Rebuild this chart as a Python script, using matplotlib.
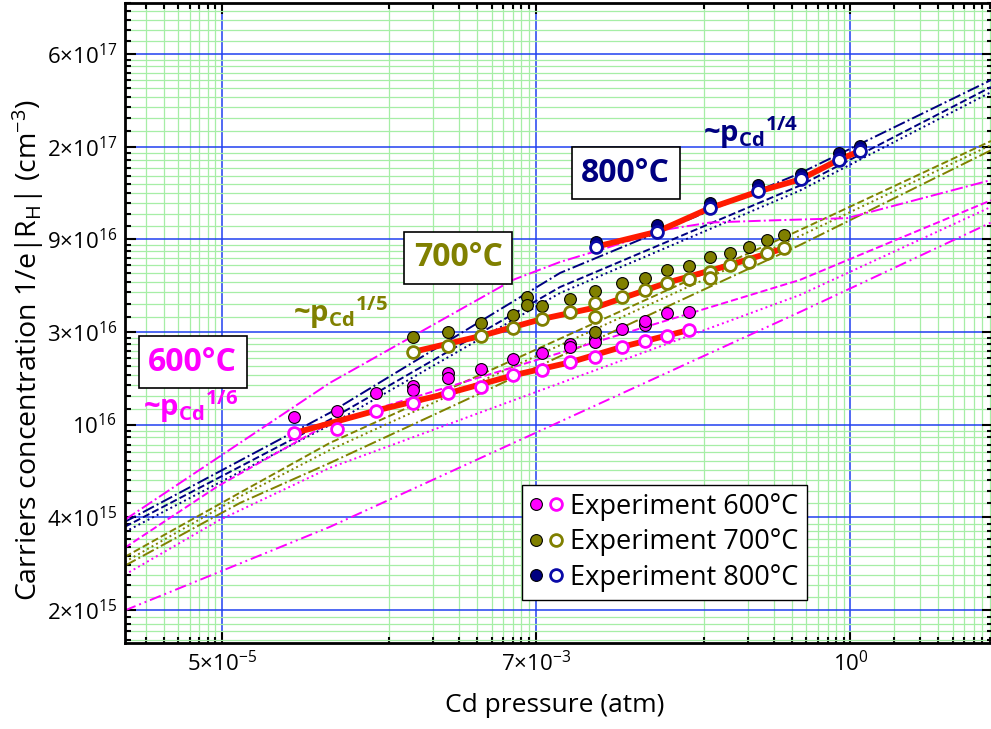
import numpy as np
import matplotlib.pyplot as plt
from matplotlib.ticker import FixedLocator, FixedFormatter, NullFormatter
from matplotlib.legend_handler import HandlerTuple

plt.rcParams['font.family'] = ['Open Sans', 'DejaVu Sans']
plt.rcParams['mathtext.fontset'] = 'custom'
plt.rcParams['mathtext.rm'] = 'Open Sans'
plt.rcParams['mathtext.bf'] = 'Open Sans:bold'
plt.rcParams['mathtext.it'] = 'Open Sans:italic'

# ---- axis ticks ----
x_ticks = [5e-5, 7e-3, 1.0]
x_labels = [r'$5{\times}10^{-5}$', r'$7{\times}10^{-3}$', r'$10^{0}$']
y_ticks = [2e15, 4e15, 1e16, 3e16, 9e16, 2e17, 6e17]
y_labels = [r'$2{\times}10^{15}$', r'$4{\times}10^{15}$', r'$10^{16}$',
            r'$3{\times}10^{16}$', r'$9{\times}10^{16}$', r'$2{\times}10^{17}$',
            r'$6{\times}10^{17}$']

# ---- experiment 600 C ----
p600_open = [1.55e-4, 3.04e-4, 5.65e-4, 1.02e-3, 1.77e-3, 2.96e-3, 4.88e-3,
             7.77e-3, 1.20e-2, 1.78e-2, 2.72e-2, 3.92e-2, 5.57e-2, 7.85e-2]
n600_open = [9.18e15, 9.55e15, 1.18e16, 1.29e16, 1.45e16, 1.57e16, 1.79e16,
             1.91e16, 2.09e16, 2.24e16, 2.51e16, 2.70e16, 2.86e16, 3.07e16]
p600_fill = [1.55e-4, 3.04e-4, 5.65e-4, 1.02e-3, 1.02e-3, 1.77e-3, 1.77e-3,
             2.96e-3, 4.88e-3, 7.77e-3, 1.20e-2, 1.20e-2, 1.78e-2, 1.78e-2,
             2.72e-2, 3.92e-2, 3.92e-2, 5.57e-2, 7.85e-2]
n600_fill = [1.10e16, 1.17e16, 1.46e16, 1.58e16, 1.51e16, 1.84e16, 1.73e16,
             1.93e16, 2.17e16, 2.33e16, 2.59e16, 2.52e16, 2.79e16, 2.67e16,
             3.11e16, 3.26e16, 3.42e16, 3.76e16, 3.80e16]

# ---- experiment 700 C ----
p700_open = [1.02e-3, 1.77e-3, 2.96e-3, 4.88e-3, 7.77e-3, 1.20e-2, 1.78e-2,
             1.78e-2, 2.72e-2, 3.92e-2, 5.57e-2, 7.85e-2, 0.110, 0.110, 0.150,
             0.201, 0.267, 0.351]
n700_open = [2.37e16, 2.55e16, 2.86e16, 3.15e16, 3.50e16, 3.79e16, 4.22e16,
             3.57e16, 4.54e16, 4.93e16, 5.38e16, 5.60e16, 6.13e16, 5.67e16,
             6.64e16, 6.91e16, 7.62e16, 8.09e16]
p700_fill = [1.02e-3, 1.77e-3, 2.96e-3, 4.88e-3, 6.07e-3, 6.07e-3, 7.77e-3,
             1.20e-2, 1.78e-2, 1.78e-2, 2.72e-2, 3.92e-2, 5.57e-2, 7.85e-2,
             0.110, 0.150, 0.201, 0.267, 0.351]
n700_fill = [2.81e16, 2.99e16, 3.32e16, 3.67e16, 4.52e16, 4.14e16, 4.08e16,
             4.43e16, 4.89e16, 3.01e16, 5.38e16, 5.67e16, 6.25e16, 6.56e16,
             7.32e16, 7.68e16, 8.18e16, 8.93e16, 9.34e16]

# ---- experiment 800 C ----
p800 = [1.81e-2, 4.72e-2, 0.110, 0.234, 0.456, 0.838, 1.17]
n800_fill = [8.75e16, 1.02e17, 1.23e17, 1.44e17, 1.58e17, 1.89e17, 2.01e17]
n800_open = [8.24e16, 9.60e16, 1.18e17, 1.36e17, 1.51e17, 1.79e17, 1.93e17]

# ---- fitted curves (red) ----
fit600_p = [1.55e-4, 5.65e-4, 1.77e-3, 4.88e-3, 1.20e-2, 2.72e-2, 7.85e-2]
fit600_n = [9.18e15, 1.18e16, 1.45e16, 1.79e16, 2.09e16, 2.51e16, 3.07e16]
fit700_p = [1.02e-3, 2.96e-3, 7.77e-3, 1.78e-2, 5.57e-2, 0.150, 0.351]
fit700_n = [2.37e16, 2.86e16, 3.50e16, 4.00e16, 5.38e16, 6.64e16, 8.09e16]
fit800_p = p800
fit800_n = n800_open

# ---- model curves ----
pm5 = [1.08e-5, 2.74e-4, 1.03e-2, 0.451, 9.16]
nav1 = [3.86e15, 1.15e16, 6.04e16, 1.59e17, 4.41e17]
nav2 = [3.72e15, 1.06e16, 5.11e16, 1.43e17, 4.06e17]
nav3 = [3.58e15, 9.96e15, 4.76e16, 1.37e17, 3.82e17]
pol = [1.08e-5, 6.62e-5, 2.74e-4, 0.451, 9.16]
olv1 = [2.97e15, 5.09e15, 8.34e15, 9.75e16, 2.14e17]
olv2 = [2.86e15, 4.90e15, 7.78e15, 9.26e16, 2.04e17]
olv3 = [2.78e15, 4.60e15, 6.84e15, 8.41e16, 1.94e17]
pmg1 = [1.08e-5, 2.74e-4, 4.90e-3, 1.03e-2, 1.93e-2, 5.21e-2, 0.109, 0.295,
        0.946, 9.16]
mag1 = [3.92e15, 1.64e16, 5.56e16, 6.88e16, 7.93e16, 9.75e16, 1.04e17,
        1.06e17, 1.08e17, 1.50e17]
pmg2 = [1.08e-5, 4.61e-5, 2.74e-4, 1.03e-2, 0.451, 9.16]
mag2 = [3.18e15, 5.40e15, 1.02e16, 2.34e16, 5.56e16, 1.26e17]
pmg3 = [1.08e-5, 4.83e-5, 2.74e-4, 0.451, 9.16]
mag3 = [2.60e15, 3.92e15, 6.52e15, 4.65e16, 1.19e17]
pmg4 = [1.08e-5, 2.74e-4, 0.451, 9.16]
mag4 = [1.99e15, 3.72e15, 3.80e16, 1.04e17]

MAG = '#ff00ff'
OLV = '#808000'
NAV = '#000080'

# y axis: equally spaced ticks, log-interpolated between them
knot_log = np.log10(y_ticks)
knot_log = np.concatenate([[knot_log[0] - 20 * (knot_log[1] - knot_log[0])],
                           knot_log,
                           [knot_log[-1] + 20 * (knot_log[-1] - knot_log[-2])]])
knot_idx = np.concatenate([[-20.0], np.arange(len(y_ticks), dtype=float),
                           [len(y_ticks) - 1 + 20.0]])


def fwd(v):
    v = np.asarray(v, dtype=float)
    lv = np.log10(np.where(v > 0, v, 1e-300))
    return np.interp(lv, knot_log, knot_idx)


def inv(i):
    return 10 ** np.interp(np.asarray(i, dtype=float), knot_idx, knot_log)


fig = plt.figure(figsize=(9.91, 7.29), dpi=100)
ax = fig.add_axes([0.1261, 0.118, 0.8759, 0.8779])
ax.set_xscale('log')
ax.set_yscale('function', functions=(fwd, inv))
ax.set_xlim(1.084e-5, 9.45)
ax.set_ylim(1.56e15, 1.10e18)

x_minor = [m * k / 10 for m in x_ticks + [10.0] for k in range(1, 10)]
y_minor = [y_ticks[0] - 1e14 * k for k in range(1, 6)]
for a, b in zip(y_ticks[:-1], y_ticks[1:]):
    y_minor += [a + (b - a) * k / 10 for k in range(1, 10)]
y_minor += [y_ticks[-1] + 1e17 * k for k in range(1, 6)]

ax.xaxis.set_major_locator(FixedLocator(x_ticks))
ax.xaxis.set_major_formatter(FixedFormatter(x_labels))
ax.xaxis.set_minor_locator(FixedLocator(x_minor))
ax.xaxis.set_minor_formatter(NullFormatter())
ax.yaxis.set_major_locator(FixedLocator(y_ticks))
ax.yaxis.set_major_formatter(FixedFormatter(y_labels))
ax.yaxis.set_minor_locator(FixedLocator(y_minor))
ax.yaxis.set_minor_formatter(NullFormatter())

ax.set_axisbelow(True)
ax.grid(which='minor', color='#a6eea6', lw=0.9)
ax.grid(which='major', color='#2040f0', lw=1.1)
ax.tick_params(which='both', direction='in', top=True, right=True, width=1.5,
               labelsize=16)
ax.tick_params(which='major', length=8, pad=6)
ax.tick_params(which='minor', length=4)
for s in ax.spines.values():
    s.set_linewidth(2)

# model curves
lw = 1.4
ddot = (0, (6, 2, 1, 2, 1, 2))
ax.plot(pm5, nav1, color=NAV, lw=lw, ls='-.')
ax.plot(pm5, nav2, color=NAV, lw=lw, ls='--')
ax.plot(pm5, nav3, color=NAV, lw=lw, ls=':')
ax.plot(pol, olv1, color=OLV, lw=lw, ls='--')
ax.plot(pol, olv2, color=OLV, lw=lw, ls=':')
ax.plot(pol, olv3, color=OLV, lw=lw, ls='-.')
ax.plot(pmg1, mag1, color=MAG, lw=lw, ls='-.')
ax.plot(pmg2, mag2, color=MAG, lw=lw, ls='--')
ax.plot(pmg3, mag3, color=MAG, lw=lw, ls=':')
ax.plot(pmg4, mag4, color=MAG, lw=lw, ls=ddot)

# fits
for fp, fn in [(fit600_p, fit600_n), (fit700_p, fit700_n), (fit800_p, fit800_n)]:
    ax.plot(fp, fn, color='#ff1a00', lw=4.2, solid_capstyle='round')

ms = 8.5
mk_fill = dict(ls='none', marker='o', ms=ms, mec='black', mew=0.8)
mk_open = dict(ls='none', marker='o', ms=ms, mfc='white', mew=2.0)

f600, = ax.plot(p600_fill, n600_fill, mfc=MAG, **mk_fill)
o600, = ax.plot(p600_open, n600_open, mec=MAG, **mk_open)
f700, = ax.plot(p700_fill, n700_fill, mfc=OLV, **mk_fill)
o700, = ax.plot(p700_open, n700_open, mec=OLV, **mk_open)
f800, = ax.plot(p800, n800_fill, mfc=NAV, **mk_fill)
o800, = ax.plot(p800, n800_open, mec='#0a0aa8', **mk_open)

leg = ax.legend([(f600, o600), (f700, o700), (f800, o800)],
                ['Experiment 600°C', 'Experiment 700°C', 'Experiment 800°C'],
                handler_map={tuple: HandlerTuple(ndivide=None, pad=0.25)},
                loc='lower left', bbox_to_anchor=(0.457, 0.067), borderaxespad=0,
                fontsize=19.5, handlelength=1.2, handletextpad=0.3,
                labelspacing=0.28, borderpad=0.3, fancybox=False,
                edgecolor='black', framealpha=1)
leg.get_frame().set_linewidth(1.0)

# temperature boxes
box = dict(boxstyle='square,pad=0.3', fc='white', ec='black', lw=1.2)
ax.text(0.577, 0.734, '800°C', transform=ax.transAxes, color=NAV, fontsize=23,
        fontweight='bold', ha='center', va='center', bbox=box)
ax.text(0.384, 0.602, '700°C', transform=ax.transAxes, color=OLV, fontsize=23,
        fontweight='bold', ha='center', va='center', bbox=box)
ax.text(0.078, 0.439, '600°C', transform=ax.transAxes, color=MAG, fontsize=23,
        fontweight='bold', ha='center', va='center', bbox=box)

# slope labels
slope_kw = dict(transform=ax.transAxes, fontsize=21, fontweight='bold',
                ha='left', va='center')
ax.text(0.666, 0.797, r'~$\mathbf{{p_{Cd}}^{1/4}}$', color=NAV, **slope_kw)
ax.text(0.194, 0.517, r'~$\mathbf{{p_{Cd}}^{1/5}}$', color=OLV, **slope_kw)
ax.text(0.021, 0.369, r'~$\mathbf{{p_{Cd}}^{1/6}}$', color=MAG, **slope_kw)

fig.text(28 / 991, 1 - 350 / 729,
         r'Carriers concentration 1/e|R$_\mathregular{H}$| (cm$^\mathregular{-3}$)',
         rotation=90, ha='center', va='center', fontsize=20.5)
fig.text(555 / 991, 1 - 706 / 729, 'Cd pressure (atm)', ha='center', va='center',
         fontsize=19)

fig.savefig('out.png', dpi=100)
